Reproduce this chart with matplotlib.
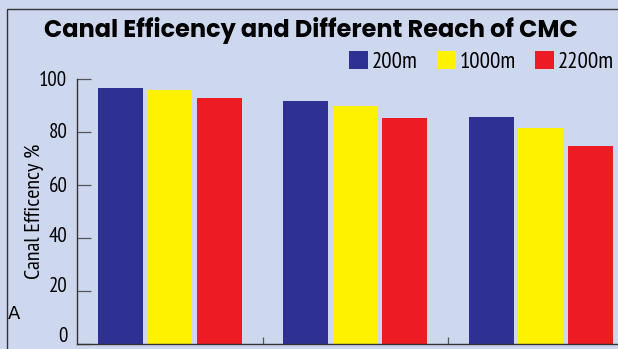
import numpy as np
import matplotlib
matplotlib.use("Agg")
import matplotlib.pyplot as plt
from matplotlib.patches import Rectangle, Patch
from matplotlib.transforms import ScaledTranslation

# canal efficiency (%) at three reaches for each of the three canal groups
groups = ["G1", "G2", "G3"]
reaches = ["200m", "1000m", "2200m"]
eff_200 = [96.6, 91.7, 85.7]
eff_1000 = [95.8, 89.8, 81.4]
eff_2200 = [92.8, 85.3, 74.7]
yticks = [0, 20, 40, 60, 80, 100]

bg = "#CDD8EE"
colors = ["#2E3192", "#FFF200", "#ED1C24"]
narrow = ["PT Sans Narrow", "Roboto Condensed", "DejaVu Sans"]
geo = ["Poppins", "Lato", "DejaVu Sans"]

fig = plt.figure(figsize=(6.18, 3.49), dpi=100)
fig.patch.set_facecolor(bg)

# frame around the panel
fig.add_artist(Rectangle((7 / 618, -0.1), 1.2, 1 - 9 / 349 + 0.1,
                         transform=fig.transFigure, fill=False,
                         edgecolor="#333333", linewidth=1.0))

ax = fig.add_axes([77 / 618, 5 / 349, 556.5 / 618, 265 / 349])
ax.set_facecolor(bg)

x = np.arange(len(groups))
offs = [-0.267, 0.0, 0.267]
w = 0.243
for vals, off, c, lab in zip([eff_200, eff_1000, eff_2200], offs, colors, reaches):
    ax.bar(x + off, vals, width=w, color=c, label=lab, zorder=2)

ax.set_xlim(-0.5, 2.5)
ax.set_ylim(0, 100)
ax.set_yticks(yticks)
ax.set_yticklabels([str(t) for t in yticks], family=narrow, fontsize=15)
ax.tick_params(axis="y", direction="in", length=10, width=0.9,
               color="#555555", pad=7)
# labels sit a little higher toward the bottom of the scale
for lab, dy in zip(ax.get_yticklabels(), [9, 6, 3, 1, 1, 0]):
    lab.set_transform(lab.get_transform() + ScaledTranslation(0, dy / 100, fig.dpi_scale_trans))
ax.set_xticks([0.5, 1.5])
ax.set_xticklabels([])
ax.tick_params(axis="x", direction="in", length=5, width=0.9, color="#555555")

for s in ["top", "right"]:
    ax.spines[s].set_visible(False)
for s in ["left", "bottom"]:
    ax.spines[s].set_color("#333333")
    ax.spines[s].set_linewidth(1.0)

ax.set_ylabel("Canal Efficency %", family=narrow, fontsize=16)
ax.yaxis.set_label_coords(-33 / 556.5, 0.5)

fig.text(311 / 618, 1 - 31 / 349, "Canal Efficency and Different Reach of CMC",
         ha="center", va="center", family=geo, fontweight="bold", fontsize=17.3)

fig.text(8 / 618, 1 - 314 / 349, "A", ha="left", va="center",
         family="DejaVu Sans", fontsize=13)

handles = [Patch(facecolor=c, edgecolor="none") for c in colors]
fig.legend(handles, reaches, loc="center right",
           bbox_to_anchor=(614 / 618, 1 - 62 / 349), ncol=3, frameon=False,
           prop={"family": narrow, "size": 16.5}, handlelength=0.83,
           handleheight=0.83, handletextpad=0.15, columnspacing=0.85,
           borderpad=0, borderaxespad=0)

fig.savefig("out.png", dpi=100, facecolor=bg)
